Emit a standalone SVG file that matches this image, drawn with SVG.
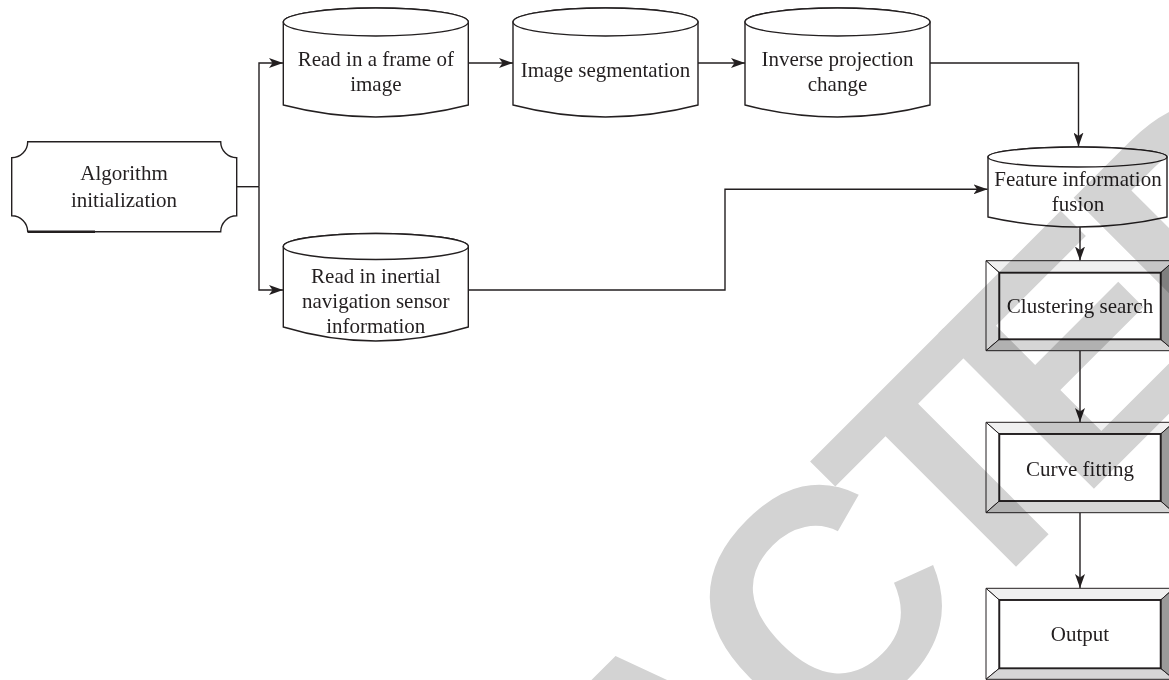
<svg xmlns="http://www.w3.org/2000/svg" width="1169" height="680" viewBox="0 0 1169 680">
<defs>
<style>
.ln{fill:none;stroke:#231f20;stroke-width:1.4}
.nd{fill:#fff;stroke:#231f20;stroke-width:1.4}
.tx{font-family:"Liberation Serif","Times New Roman",serif;font-size:21px;fill:#231f20;text-anchor:middle}
.bt{fill:#f0f0f0;stroke:#231f20;stroke-width:1}
.bl{fill:#ffffff;stroke:#231f20;stroke-width:1}
.bb{fill:#d6d6d6;stroke:#231f20;stroke-width:1}
.br{fill:#9a9a9a;stroke:#231f20;stroke-width:1}
.in{fill:#fff;stroke:#231f20;stroke-width:1.9}
.wm{font-family:"Liberation Sans",Arial,sans-serif;font-weight:bold;font-size:320px;fill:#d3d3d3;letter-spacing:-22px}
</style>
<marker id="ah" viewBox="0 0 14 10" refX="14" refY="5" markerWidth="14" markerHeight="10" markerUnits="userSpaceOnUse" orient="auto">
<path d="M0,0 L14,5 L0,10 L3.5,5 Z" fill="#231f20"/>
</marker>
</defs>
<rect x="0" y="0" width="1169" height="680" fill="#fff"/>

<g id="connectors">
<path class="ln" d="M236.7,186.7 H259"/>
<path class="ln" d="M259,186.7 V63 H283" marker-end="url(#ah)"/>
<path class="ln" d="M259,186.7 V290 H283" marker-end="url(#ah)"/>
<path class="ln" d="M468.3,63 H513" marker-end="url(#ah)"/>
<path class="ln" d="M698,63 H745" marker-end="url(#ah)"/>
<path class="ln" d="M930,63 H1078.5 V146.5" marker-end="url(#ah)"/>
<path class="ln" d="M468.3,290 H725 V189.3 H987.5" marker-end="url(#ah)"/>
<path class="ln" d="M1080,227 V260.5" marker-end="url(#ah)"/>
<path class="ln" d="M1080,350.7 V422" marker-end="url(#ah)"/>
<path class="ln" d="M1080,512.7 V588" marker-end="url(#ah)"/>
</g>

<g id="algorithm-initialization">
<path class="nd" d="M27.7,141.7 H220.7 A16,16 0 0 0 236.7,157.7 V215.7 A16,16 0 0 0 220.7,231.7 H27.7 A16,16 0 0 0 11.7,215.7 V157.7 A16,16 0 0 0 27.7,141.7 Z"/>
<line x1="28" y1="231.7" x2="95" y2="231.7" stroke="#231f20" stroke-width="2.4"/>
<text class="tx" x="124" y="180">Algorithm</text>
<text class="tx" x="124" y="207">initialization</text>
</g>

<g id="read-frame">
<path class="nd" d="M283.3,22 V105 Q375.8,129 468.3,105 V22 A92.5,14 0 0 0 283.3,22 Z"/>
<ellipse class="nd" cx="375.8" cy="22" rx="92.5" ry="14"/>
<text class="tx" x="375.8" y="66">Read in a frame of</text>
<text class="tx" x="375.8" y="91">image</text>
</g>

<g id="image-segmentation">
<path class="nd" d="M513,22 V105 Q605.5,129 698,105 V22 A92.5,14 0 0 0 513,22 Z"/>
<ellipse class="nd" cx="605.5" cy="22" rx="92.5" ry="14"/>
<text class="tx" x="605.5" y="77">Image segmentation</text>
</g>

<g id="inverse-projection">
<path class="nd" d="M745,22 V105 Q837.5,129 930,105 V22 A92.5,14 0 0 0 745,22 Z"/>
<ellipse class="nd" cx="837.5" cy="22" rx="92.5" ry="14"/>
<text class="tx" x="837.5" y="66">Inverse projection</text>
<text class="tx" x="837.5" y="91">change</text>
</g>

<g id="read-inertial">
<path class="nd" d="M283.3,246.5 V327 Q375.8,355 468.3,327 V246.5 A92.5,13 0 0 0 283.3,246.5 Z"/>
<ellipse class="nd" cx="375.8" cy="246.5" rx="92.5" ry="13"/>
<text class="tx" x="375.8" y="283">Read in inertial</text>
<text class="tx" x="375.8" y="308">navigation sensor</text>
<text class="tx" x="375.8" y="333">information</text>
</g>

<g id="feature-fusion">
<path class="nd" d="M988,157 V217 Q1077.5,237 1167,217 V157 A89.5,10 0 0 0 988,157 Z"/>
<ellipse class="nd" cx="1077.5" cy="157" rx="89.5" ry="10"/>
<text class="tx" x="1078" y="186">Feature information</text>
<text class="tx" x="1078" y="211">fusion</text>
</g>

<g id="clustering-search">
<polygon class="bt" points="986,260.7 1174,260.7 1160.7,272.7 999.3,272.7"/>
<polygon class="bl" points="986,260.7 999.3,272.7 999.3,339.3 986,350.7"/>
<polygon class="bb" points="986,350.7 999.3,339.3 1160.7,339.3 1174,350.7"/>
<polygon class="br" points="1174,260.7 1174,350.7 1160.7,339.3 1160.7,272.7"/>
<rect class="in" x="999.3" y="272.7" width="161.4" height="66.6"/>
<text class="tx" x="1080" y="313">Clustering search</text>
</g>

<g id="curve-fitting">
<polygon class="bt" points="986,422.3 1174,422.3 1160.7,434 999.3,434"/>
<polygon class="bl" points="986,422.3 999.3,434 999.3,501 986,512.7"/>
<polygon class="bb" points="986,512.7 999.3,501 1160.7,501 1174,512.7"/>
<polygon class="br" points="1174,422.3 1174,512.7 1160.7,501 1160.7,434"/>
<rect class="in" x="999.3" y="434" width="161.4" height="67"/>
<text class="tx" x="1080" y="476">Curve fitting</text>
</g>

<g id="output">
<polygon class="bt" points="986,588.3 1174,588.3 1160.7,600 999.3,600"/>
<polygon class="bl" points="986,588.3 999.3,600 999.3,668.3 986,679.3"/>
<polygon class="bb" points="986,679.3 999.3,668.3 1160.7,668.3 1174,679.3"/>
<polygon class="br" points="1174,588.3 1174,679.3 1160.7,668.3 1160.7,600"/>
<rect class="in" x="999.3" y="600" width="161.4" height="68.3"/>
<text class="tx" x="1080" y="640.5">Output</text>
</g>

<g id="watermark" style="mix-blend-mode:multiply">
<text class="wm" transform="translate(116.6,1466.2) rotate(-45)">RETRAC<tspan dx="-4">T</tspan><tspan dx="-10">ED</tspan></text>
</g>
</svg>
